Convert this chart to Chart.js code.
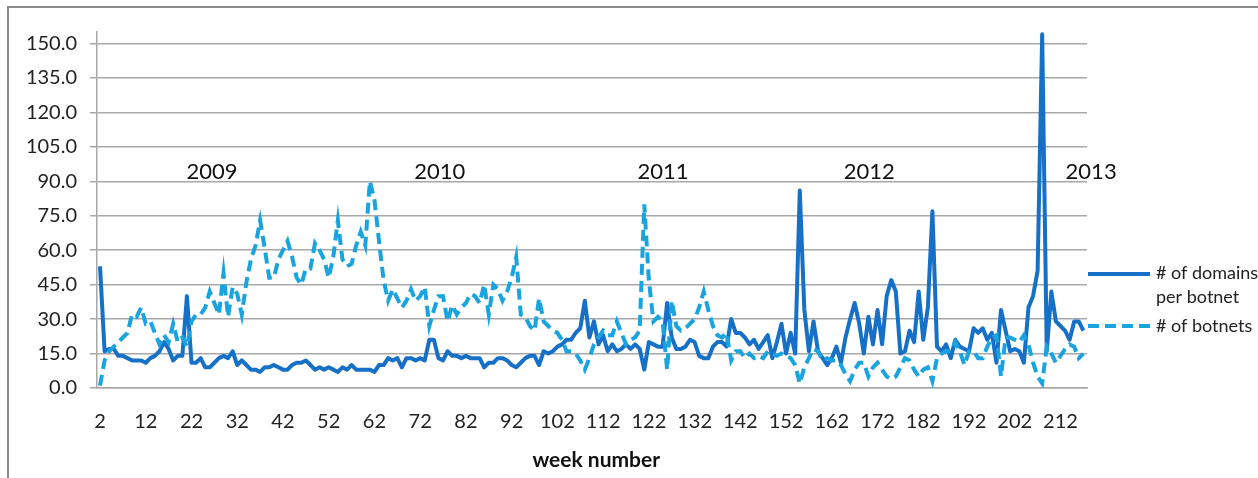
<!DOCTYPE html>
<html>
<head>
<meta charset="utf-8">
<title>domains per botnet / botnets per week</title>
<script src="https://cdn.jsdelivr.net/npm/chart.js@4.4.0/dist/chart.umd.min.js"></script>
<style>
  html, body { margin: 0; padding: 0; background: #fff; }
  #wrap { position: relative; width: 1258px; height: 478px; overflow: hidden; }
  #frame { position: absolute; left: 7px; top: 6px; width: 1300px; height: 500px;
           border-left: 2px solid #8c8c8c; border-top: 2px solid #8c8c8c; }
  #chart { position: absolute; left: 0; top: 0; }
</style>
</head>
<body>
<div id="wrap">
  <div id="frame"></div>
  <canvas id="chart" width="1258" height="478"></canvas>
</div>
<script>
// week numbers 2 .. 217 (categories on the x axis)
const weeks = [];
for (let w = 2; w <= 217; w++) weeks.push(w);

// # of domains per botnet, one value per week
const domainsPerBotnet = [
  53, 16, 17, 17, 14, 14, 13, 12, 12, 12,   // 2-11
  11, 13, 14, 16, 20, 17, 12, 14, 14, 40,   // 12-21
  11, 11, 13, 9, 9, 11, 13, 14, 13, 16,     // 22-31
  10, 12, 10, 8, 8, 7, 9, 9, 10, 9,         // 32-41
  8, 8, 10, 11, 11, 12, 10, 8, 9, 8,        // 42-51
  9, 8, 7, 9, 8, 10, 8, 8, 8, 8,            // 52-61
  7, 10, 10, 13, 12, 13, 9, 13, 13, 12,     // 62-71
  13, 12, 21, 21, 13, 12, 16, 14, 14, 13,   // 72-81
  14, 13, 13, 13, 9, 11, 11, 13, 13, 12,    // 82-91
  10, 9, 11, 13, 14, 14, 10, 16, 15, 16,    // 92-101
  18, 19, 21, 21, 24, 26, 38, 22, 29, 19,   // 102-111
  23, 16, 19, 16, 17, 19, 17, 19, 17, 8,    // 112-121
  20, 19, 18, 18, 37, 22, 17, 17, 18, 21,   // 122-131
  20, 14, 13, 13, 18, 20, 20, 18, 30, 24,   // 132-141
  24, 22, 19, 21, 17, 20, 23, 13, 20, 28,   // 142-151
  15, 24, 15, 86, 34, 16, 29, 16, 13, 10,   // 152-161
  13, 18, 11, 22, 30, 37, 28, 15, 31, 19,   // 162-171
  34, 19, 40, 47, 42, 15, 16, 25, 20, 42,   // 172-181
  21, 35, 77, 18, 16, 19, 13, 21, 18, 17,   // 182-191
  16, 26, 24, 26, 21, 24, 11, 34, 25, 16,   // 192-201
  17, 16, 11, 35, 40, 51, 154, 16, 42, 29,  // 202-211
  27, 25, 21, 29, 29, 25                    // 212-217
];

// # of botnets, one value per week
const botnets = [
  1, 12, 16, 18, 20, 22, 24, 32, 31, 35,    // 2-11
  28, 29, 24, 19, 23, 20, 28, 20, 22, 18,   // 12-21
  29, 32, 32, 35, 42, 37, 32, 50, 31, 44,   // 22-31
  41, 32, 46, 56, 62, 73, 61, 48, 48, 56,   // 32-41
  60, 64, 57, 48, 45, 52, 52, 63, 60, 56,   // 42-51
  48, 57, 73, 56, 53, 54, 62, 68, 62, 90,   // 52-61
  82, 64, 47, 38, 43, 39, 35, 38, 43, 38,   // 62-71
  40, 44, 27, 34, 40, 40, 29, 36, 32, 35,   // 72-81
  37, 41, 40, 37, 45, 32, 45, 43, 38, 42,   // 82-91
  48, 57, 32, 31, 27, 25, 39, 29, 27, 25,   // 92-101
  24, 21, 16, 16, 15, 12, 8, 13, 19, 22,    // 102-111
  25, 23, 23, 29, 24, 19, 21, 22, 25, 80,   // 112-121
  47, 29, 31, 29, 8, 38, 27, 25, 26, 28,    // 122-131
  30, 35, 42, 34, 27, 23, 22, 24, 12, 16,   // 132-141
  16, 13, 15, 13, 14, 13, 16, 15, 14, 15,   // 142-151
  14, 13, 10, 2, 9, 13, 17, 16, 12, 13,     // 152-161
  12, 12, 10, 6, 3, 8, 11, 11, 5, 9,        // 162-171
  11, 8, 5, 4, 5, 9, 13, 12, 8, 5,          // 172-181
  8, 9, 3, 13, 15, 16, 16, 20, 16, 10,      // 182-191
  16, 16, 13, 13, 18, 22, 23, 5, 22, 22,    // 192-201
  21, 20, 23, 19, 11, 5, 2, 18, 15, 11,     // 202-211
  14, 17, 19, 18, 13, 15                    // 212-217
];

// x-axis tick labels
const weekTicks = [2, 12, 22, 32, 42, 52, 62, 72, 82, 92, 102, 112, 122, 132, 142, 152, 162, 172, 182, 192, 202, 212];

// year annotations (week position, text)
const yearWeeks = [26.5, 76.3, 125.1, 170.2, 218.7];
const yearNames = ['2009', '2010', '2011', '2012', '2013'];
const yearLevel = 94;

const seriesNames = ['# of domains', 'per botnet', '# of botnets'];

const solidColor = '#1670c8';
const dashColor = '#19a4df';
const gridColor = '#a8a8a8';
const font = 'Lato';

function toPoints(values) {
  return values.map((v, i) => ({ x: weeks[i], y: v }));
}

// year labels, x title and legend on the right
const extras = {
  id: 'extras',
  afterDraw(chart) {
    const { ctx, chartArea, scales } = chart;
    ctx.save();
    ctx.fillStyle = '#111';
    ctx.font = '22px ' + font;
    ctx.textAlign = 'center';
    ctx.textBaseline = 'middle';
    yearNames.forEach((t, i) => {
      ctx.fillText(t, scales.x.getPixelForValue(yearWeeks[i]), scales.y.getPixelForValue(yearLevel));
    });

    // axis title sits a bit right of the plot centre in the original
    ctx.font = 'bold 21px ' + font;
    ctx.fillText('week number', scales.x.getPixelForValue(110.5), 460);

    const x0 = chartArea.right + 1;
    const x1 = x0 + 62;
    ctx.lineWidth = 4;
    ctx.strokeStyle = solidColor;
    ctx.beginPath(); ctx.moveTo(x0, 274); ctx.lineTo(x1, 274); ctx.stroke();
    ctx.strokeStyle = dashColor;
    ctx.setLineDash([11, 6]);
    ctx.beginPath(); ctx.moveTo(x0, 326); ctx.lineTo(x1, 326); ctx.stroke();
    ctx.setLineDash([]);

    ctx.font = '18px ' + font;
    ctx.textAlign = 'left';
    ctx.fillStyle = '#222';
    ctx.fillText(seriesNames[0], x1 + 6, 273);
    ctx.fillText(seriesNames[1], x1 + 6, 297);
    ctx.fillText(seriesNames[2], x1 + 6, 326);
    ctx.restore();
  }
};

new Chart(document.getElementById('chart'), {
  type: 'line',
  data: {
    datasets: [{
      label: '# of domains per botnet',
      data: toPoints(domainsPerBotnet),
      borderColor: solidColor,
      borderWidth: 4,
      pointRadius: 0,
      tension: 0,
      borderJoinStyle: 'round',
      order: 1
    }, {
      label: '# of botnets',
      data: toPoints(botnets),
      borderColor: dashColor,
      borderWidth: 4,
      borderDash: [11, 6],
      pointRadius: 0,
      tension: 0,
      order: 0
    }]
  },
  options: {
    responsive: false,
    animation: false,
    layout: { padding: { left: 0, right: 171, top: 32, bottom: 0 } },
    plugins: { legend: { display: false }, tooltip: { enabled: false } },
    scales: {
      x: {
        type: 'linear',
        min: 1.34,
        max: 217.8,
        afterBuildTicks(s) { s.ticks = weekTicks.map(v => ({ value: v })); },
        afterFit(s) { s.height = 90; },
        ticks: { autoSkip: false, maxRotation: 0, padding: 22, color: '#222',
                 font: { family: font, size: 20 }, callback: v => v },
        grid: { display: false, drawTicks: false },
        border: { display: true, color: gridColor, width: 1.5 }
      },
      y: {
        min: 0,
        max: 155,
        afterFit(s) { s.width = 97; },
        ticks: { stepSize: 15, includeBounds: false, padding: 13, color: '#222',
                 font: { family: font, size: 20 }, callback: v => v.toFixed(1) },
        grid: { color: gridColor, lineWidth: 1.5, tickLength: 7 },
        border: { display: true, color: gridColor, width: 1.5 }
      }
    }
  },
  plugins: [extras]
});
</script>
</body>
</html>
